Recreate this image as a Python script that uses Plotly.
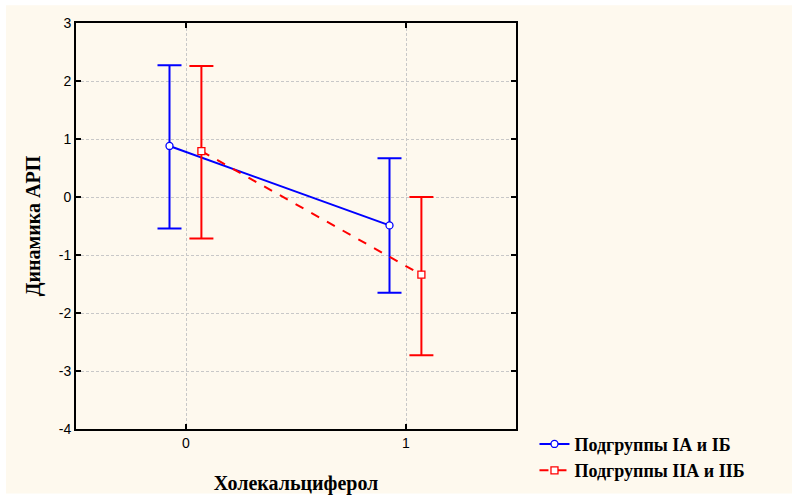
import plotly.graph_objects as go

# Data
categories = [0, 1]
offset_a = -0.075
offset_b = 0.07
means_a = [0.88, -0.49]
upper_a = [2.27, 0.67]
lower_a = [-0.545, -1.65]
means_b = [0.79, -1.34]
upper_b = [2.26, 0.0]
lower_b = [-0.715, -2.73]
name_a = "Подгруппы IА и IБ"
name_b = "Подгруппы IIА и IIБ"
x_title = "Холекальциферол"
y_title = "Динамика АРП"
y_ticks = [-4, -3, -2, -1, 0, 1, 2, 3]

xa = [c + offset_a for c in categories]
xb = [c + offset_b for c in categories]

fig = go.Figure()
fig.add_trace(go.Scatter(
    x=xa, y=means_a, name="<b>" + name_a + "</b>", mode="lines+markers",
    line=dict(color="#0000FF", width=2),
    marker=dict(symbol="circle", size=7, color="white", line=dict(color="#0000FF", width=1.3)),
    error_y=dict(type="data", symmetric=False,
                 array=[u - m for u, m in zip(upper_a, means_a)],
                 arrayminus=[m - l for m, l in zip(means_a, lower_a)],
                 color="#0000FF", thickness=2, width=12),
))
fig.add_trace(go.Scatter(
    x=xb, y=means_b, name="<b>" + name_b + "</b>", mode="lines+markers",
    line=dict(color="#FF0000", width=2, dash="dash"),
    marker=dict(symbol="square", size=7, color="white", line=dict(color="#FF0000", width=1.3)),
    error_y=dict(type="data", symmetric=False,
                 array=[u - m for u, m in zip(upper_b, means_b)],
                 arrayminus=[m - l for m, l in zip(means_b, lower_b)],
                 color="#FF0000", thickness=2, width=12),
))

axis_common = dict(
    showline=True, linecolor="black", linewidth=2, mirror="ticks",
    ticks="inside", ticklen=5, tickwidth=2, tickcolor="black",
    showgrid=True, gridcolor="#C8C8C8", griddash="3px,2px", gridwidth=1,
    zeroline=False, automargin=False,
    tickfont=dict(family="Liberation Sans, Arial", size=14, color="black"),
)

title_font = dict(family="Liberation Serif, Times New Roman", size=20, color="black")

fig.update_layout(
    width=792, height=501,
    paper_bgcolor="white", plot_bgcolor="white",
    margin=dict(l=76, r=276, t=23, b=69),
    xaxis=dict(range=[-0.5, 1.5], tickvals=categories, ticktext=[str(c) for c in categories],
               title=dict(text="<b>" + x_title + "</b>", font=title_font, standoff=26),
               **axis_common),
    yaxis=dict(range=[-4, 3], tickvals=y_ticks, ticktext=[str(t) for t in y_ticks],
               title=dict(text="<b>" + y_title + "</b>", font=title_font, standoff=13),
               **axis_common),
    legend=dict(x=1.042, y=0.008, xanchor="left", yanchor="top",
                font=dict(family="Liberation Serif, Times New Roman", size=18, color="black"),
                bgcolor="rgba(0,0,0,0)", tracegroupgap=0, itemwidth=30),
    showlegend=True,
    shapes=[dict(type="rect", xref="paper", yref="paper", layer="below",
                 x0=(6 - 76) / 440, x1=1 + 276 / 440, y0=(432 - 497) / 409, y1=1 + 18 / 409,
                 fillcolor="#FEF9EE", line=dict(width=0))],
)

fig.write_html(
    "out.html",
    config={"displayModeBar": False},
    post_script=(
        "document.body.style.margin='0';"
        "var d=document.getElementById('{plot_id}');"
        "d.style.position='fixed';d.style.left='0px';d.style.top='0px';"
    ),
)
